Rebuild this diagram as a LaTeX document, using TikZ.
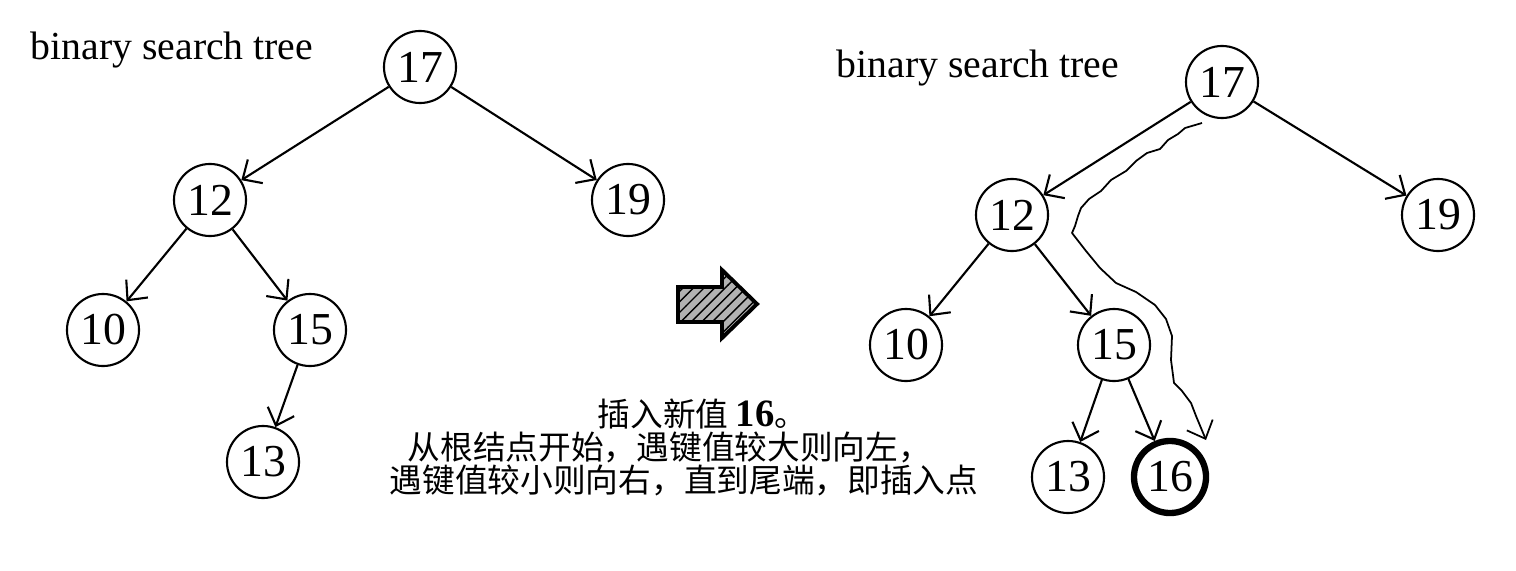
\documentclass[tikz,border=0pt]{standalone}
\usepackage{fontspec}
\setmainfont{Liberation Serif}
\newfontfamily\cjk{Noto Sans CJK SC}
\usepackage{tikz}
\usetikzlibrary{arrows.meta,patterns}

\tikzset{
  key/.style={circle, draw, line width=0.6pt, minimum size=0.72cm, inner sep=0pt,
    font=\fontsize{13}{13}\selectfont},
  newkey/.style={key, line width=1.8pt},
  link/.style={-{Straight Barb[length=1.5mm,width=2.8mm]}, line width=0.6pt},
  title/.style={font=\fontsize{11.3}{12}\selectfont, inner sep=0pt},
  note/.style={font=\cjk\fontsize{9.3}{9.3}\selectfont, inner sep=0pt, anchor=west}
}

\begin{document}
\begin{tikzpicture}[x=0.01cm,y=-0.01cm]
\useasboundingbox (0,0) rectangle (1516,570);

% tree before inserting
\node[title] (t1) at (172,50) {binary search tree};
\node[key] (a17) at (420,67) {17};
\node[key] (a12) at (210,200) {12};
\node[key] (a19) at (628,200) {19};
\node[key] (a10) at (103,330) {10};
\node[key] (a15) at (310,330) {15};
\node[key] (a13) at (263,462) {13};

\draw[link] (a17) -- (a12);
\draw[link] (a17) -- (a19);
\draw[link] (a12) -- (a10);
\draw[link] (a12) -- (a15);
\draw[link] (a15) -- (a13);

% fat arrow
\draw[fill=gray!60, postaction={pattern=north east lines}, line width=1.1pt, line join=miter]
  (678,287) -- (722,287) -- (722,270) -- (757,304) -- (722,338) -- (722,322) -- (678,322) -- cycle;

% tree after inserting
\node[title] (t2) at (978,68) {binary search tree};
\node[key] (b17) at (1222,82) {17};
\node[key] (b12) at (1012,215) {12};
\node[key] (b19) at (1438,215) {19};
\node[key] (b10) at (906,345) {10};
\node[key] (b15) at (1114,345) {15};
\node[key] (b13) at (1068,477) {13};
\node[newkey] (b16) at (1170,477) {16};

\draw[link] (b17) -- (b12);
\draw[link] (b17) -- (b19);
\draw[link] (b12) -- (b10);
\draw[link] (b12) -- (b15);
\draw[link] (b15) -- (b13);
\draw[link] (b15) -- (b16);

% search path
\coordinate (w0) at (1202,123);
\coordinate (w1) at (1206,440);
\draw[link, line width=0.5pt, line join=round] (w0) -- (1185,128) -- (1178,134) -- (1168,140)
  -- (1160,149) -- (1147,153) -- (1136,161) -- (1126,171) -- (1111,180) -- (1101,191)
  -- (1089,199) -- (1081,208) -- (1078,216) -- (1075,226) -- (1072,233) -- (1086,251)
  -- (1100,268) -- (1116,283) -- (1136,292) -- (1155,305) -- (1166,319) -- (1172,336)
  -- (1171,360) -- (1174,383) -- (1182,391) -- (1191,403) -- (1196,416) -- (1201,428) -- (w1);

% caption
\node[note] (n1) at (597,414) {插入新值 {\rmfamily\bfseries\fontsize{11}{11}\selectfont 16}。};
\node[note] (n2) at (407,447) {从根结点开始，遇键值较大则向左，};
\node[note] (n3) at (389,480) {遇键值较小则向右，直到尾端，即插入点};
\end{tikzpicture}
\end{document}
